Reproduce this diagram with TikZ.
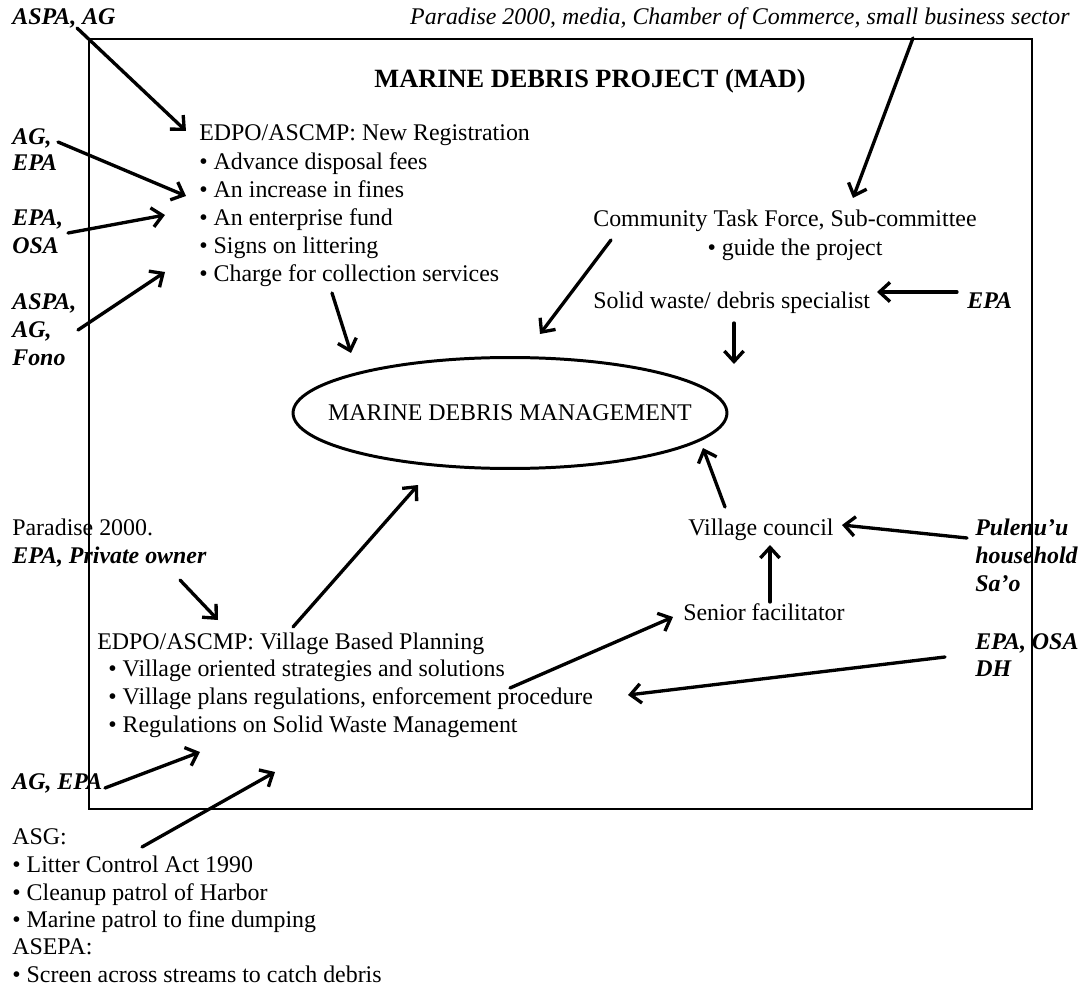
\documentclass[tikz,border=0pt]{standalone}
\usepackage{fontspec}
\setmainfont{Liberation Serif}
\usetikzlibrary{arrows.meta,shapes.geometric}
\begin{document}
\begin{tikzpicture}[x=0.02cm,y=-0.02cm,
  txt/.style={anchor=west, inner sep=0pt, text height=8.8pt, text depth=0pt,
              font=\fontsize{13.6}{16}\selectfont},
  who/.style={txt, font=\fontsize{13.6}{16}\selectfont\bfseries\itshape},
  flow/.style={line width=1.9pt, line cap=round,
               -{Straight Barb[length=6pt,width=11pt]}},
  frame/.style={line width=1.7pt}
]
\useasboundingbox (0,0) rectangle (1080,990);

% project frame
\draw[frame] (89,39) rectangle (1032,809);

% title
\node[txt, anchor=center, font=\fontsize{15}{18}\selectfont\bfseries] (title) at (590,80)
  {MARINE DEBRIS PROJECT (MAD)};

% central goal
\node[draw, ellipse, line width=1.7pt, inner sep=0pt,
      minimum width=8.68cm, minimum height=2.22cm] (mdm) at (510,413) {};
\node[font=\fontsize{13.6}{16}\selectfont, inner sep=0pt] (mdmtext) at (mdm.center)
  {MARINE DEBRIS MANAGEMENT};

% top stakeholders
\node[who] (aspaag) at (12,17) {ASPA, AG};
\node[txt, anchor=east, font=\fontsize{13.6}{16}\selectfont\itshape] (paradise) at (1070,17)
  {Paradise 2000, media, Chamber of Commerce, small business sector};

% new registration block
\node[txt] (nr0) at (199,133) {EDPO/ASCMP: New Registration};
\node[txt] (nr1) at (199,162) {\textbullet{} Advance disposal fees};
\node[txt] (nr2) at (199,190) {\textbullet{} An increase in fines};
\node[txt] (nr3) at (199,218) {\textbullet{} An enterprise fund};
\node[txt] (nr4) at (199,246) {\textbullet{} Signs on littering};
\node[txt] (nr5) at (199,274) {\textbullet{} Charge for collection services};

% left stakeholders
\node[who] (agepa1) at (12,137) {AG,};
\node[who] (agepa2) at (12,163) {EPA};
\node[who] (epaosa1) at (12,218) {EPA,};
\node[who] (epaosa2) at (12,246) {OSA};
\node[who] (fono1) at (12,302) {ASPA,};
\node[who] (fono2) at (12,330) {AG,};
\node[who] (fono3) at (12,358) {Fono};

% task force and specialist
\node[txt] (ctf) at (593,219) {Community Task Force, Sub-committee};
\node[txt, anchor=center] (guide) at (795,248) {\textbullet{} guide the project};
\node[txt] (sw) at (593,301) {Solid waste/ debris specialist};
\node[who] (epasw) at (967,301) {EPA};

% village side
\node[txt] (vc) at (688,528) {Village council};
\node[who] (pul1) at (975,528) {Pulenu’u};
\node[who] (pul2) at (975,556) {household};
\node[who] (pul3) at (975,584) {Sa’o};
\node[txt] (senior) at (683,613) {Senior facilitator};
\node[who] (dh1) at (975,642) {EPA, OSA};
\node[who] (dh2) at (975,669) {DH};

% village based planning block
\node[txt] (p2000) at (12,528) {Paradise 2000.};
\node[who] (priv) at (12,556) {EPA, Private owner};
\node[txt] (vbp0) at (97,642) {EDPO/ASCMP: Village Based Planning};
\node[txt] (vbp1) at (108,669) {\textbullet{} Village oriented strategies and solutions};
\node[txt] (vbp2) at (108,697) {\textbullet{} Village plans regulations, enforcement procedure};
\node[txt] (vbp3) at (108,725) {\textbullet{} Regulations on Solid Waste Management};
\node[who] (agepa3) at (12,782) {AG, EPA};

% government programmes
\node[txt] (asg0) at (12,837) {ASG:};
\node[txt] (asg1) at (12,865) {\textbullet{} Litter Control Act 1990};
\node[txt] (asg2) at (12,893) {\textbullet{} Cleanup patrol of Harbor};
\node[txt] (asg3) at (12,920) {\textbullet{} Marine patrol to fine dumping};
\node[txt] (asepa0) at (12,947) {ASEPA:};
\node[txt] (asepa1) at (12,975) {\textbullet{} Screen across streams to catch debris};

% connector end points
\coordinate (aspaag-o) at (77,28);   \coordinate (nr-a) at (186,131);
\coordinate (agepa-o) at (58,142);   \coordinate (nr-b) at (186,196);
\coordinate (epaosa-o) at (68,233);  \coordinate (nr-c) at (165,215);
\coordinate (fono-o) at (78,330);    \coordinate (nr-d) at (165,272);
\coordinate (nr-o) at (332,293);     \coordinate (mdm-a) at (351,353);
\coordinate (paradise-o) at (913,38); \coordinate (ctf-i) at (853,198);
\coordinate (ctf-o) at (611,240);    \coordinate (mdm-b) at (540,334);
\coordinate (epasw-o) at (957,292);  \coordinate (sw-i) at (877,292);
\coordinate (sw-o) at (734,323);     \coordinate (mdm-c) at (734,364);
\coordinate (vc-o) at (725,507);     \coordinate (mdm-d) at (703,448);
\coordinate (pul-o) at (967,538);    \coordinate (vc-i) at (842,525);
\coordinate (senior-o) at (770,602); \coordinate (vc-j) at (770,545);
\coordinate (dh-o) at (945,657);     \coordinate (vbp-a) at (628,695);
\coordinate (priv-o) at (180,580);   \coordinate (vbp-b) at (218,620);
\coordinate (vbp-o) at (293,627);    \coordinate (mdm-e) at (418,485);
\coordinate (vbp-p) at (510,688);    \coordinate (senior-i) at (673,617);
\coordinate (agepa3-o) at (105,788); \coordinate (vbp-c) at (200,752);
\coordinate (asg-o) at (142,847);    \coordinate (vbp-d) at (275,772);

% connectors
\draw[flow] (aspaag-o) -- (nr-a);
\draw[flow] (agepa-o) -- (nr-b);
\draw[flow] (epaosa-o) -- (nr-c);
\draw[flow] (fono-o) -- (nr-d);
\draw[flow] (nr-o) -- (mdm-a);
\draw[flow] (paradise-o) -- (ctf-i);
\draw[flow] (ctf-o) -- (mdm-b);
\draw[flow] (epasw-o) -- (sw-i);
\draw[flow] (sw-o) -- (mdm-c);
\draw[flow] (vc-o) -- (mdm-d);
\draw[flow] (pul-o) -- (vc-i);
\draw[flow] (senior-o) -- (vc-j);
\draw[flow] (dh-o) -- (vbp-a);
\draw[flow] (priv-o) -- (vbp-b);
\draw[flow] (vbp-o) -- (mdm-e);
\draw[flow] (vbp-p) -- (senior-i);
\draw[flow] (agepa3-o) -- (vbp-c);
\draw[flow] (asg-o) -- (vbp-d);
\end{tikzpicture}
\end{document}
